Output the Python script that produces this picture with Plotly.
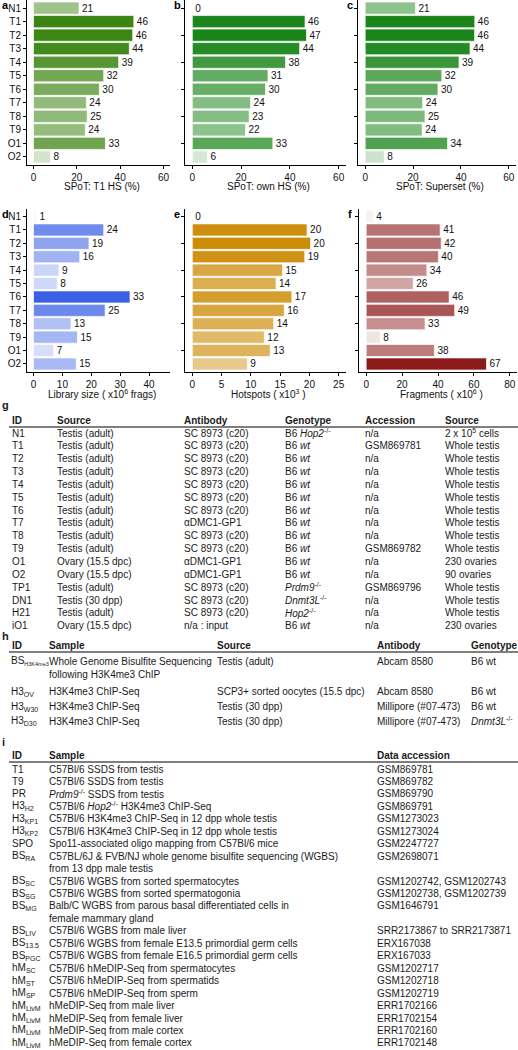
import plotly.graph_objects as go

W, H = 518, 1050

# ---------------- data ----------------
samples = ["N1", "T1", "T2", "T3", "T4", "T5", "T6", "T7", "T8", "T9", "O1", "O2"]
spot_t1 = [21, 46.3, 45.8, 44.2, 39.3, 32.4, 30.4, 24.4, 24.8, 23.9, 33.2, 7.8]
spot_own = [0, 46.2, 46.8, 44.0, 38.2, 31.0, 30.0, 23.9, 23.3, 21.8, 33.0, 6.2]
spot_superset = [21.0, 45.8, 45.7, 43.8, 39.2, 32.0, 30.4, 24.0, 25.0, 23.8, 34.4, 8.0]
library_size = [1.0, 24.3, 19.2, 16.0, 8.8, 8.2, 33.4, 24.8, 13.0, 15.2, 7.0, 14.8]
hotspots = [0.0, 19.6, 20.2, 19.2, 15.4, 14.3, 17.0, 15.7, 13.9, 12.3, 13.3, 9.4]
fragments = [4.0, 41.2, 41.8, 40.2, 33.8, 26.2, 46.2, 49.3, 32.8, 7.8, 38.0, 67.0]

g_header = ["ID", "Source", "Antibody", "Genotype", "Accession", "Source"]
g_id = ["N1", "T1", "T2", "T3", "T4", "T5", "T6", "T7", "T8", "T9", "O1", "O2",
        "TP1", "DN1", "H21", "iO1"]
g_source = ["Testis (adult)"] * 10 + ["Ovary (15.5 dpc)", "Ovary (15.5 dpc)",
            "Testis (adult)", "Testis (30 dpp)", "Testis (adult)", "Ovary (15.5 dpc)"]
g_antibody = ["SC 8973 (c20)"] * 7 + ["αDMC1-GP1", "SC 8973 (c20)", "SC 8973 (c20)",
              "αDMC1-GP1", "αDMC1-GP1", "SC 8973 (c20)", "SC 8973 (c20)",
              "SC 8973 (c20)", "n/a : input"]
g_genotype = ["B6 <i>Hop2</i><sup>-/-</sup>"] + ["B6 <i>wt</i>"] * 11 + [
    "<i>Prdm9</i><sup>-/-</sup>", "<i>Dnmt3L</i><sup>-/-</sup>",
    "<i>Hop2</i><sup>-/-</sup>", "B6 <i>wt</i>"]
g_accession = ["n/a", "GSM869781", "n/a", "n/a", "n/a", "n/a", "n/a", "n/a", "n/a",
               "GSM869782", "n/a", "n/a", "GSM869796", "n/a", "n/a", "n/a"]
g_cells = ["2 x 10<sup>5</sup> cells"] + ["Whole testis"] * 9 + [
    "230 ovaries", "90 ovaries", "Whole testis", "Whole testis", "Whole testis",
    "230 ovaries"]

h_header = ["ID", "Sample", "Source", "Antibody", "Genotype"]
h_id = ["BS<sub><span style='font-size:5.5px'>H3K4me3</span></sub>", "H3<sub>OV</sub>",
        "H3<sub>W30</sub>", "H3<sub>D30</sub>"]
h_sample = [["Whole Genome Bisulfite Sequencing", "following H3K4me3 ChIP"],
            ["H3K4me3 ChIP-Seq"], ["H3K4me3 ChIP-Seq"], ["H3K4me3 ChIP-Seq"]]
h_source = ["Testis (adult)", "SCP3+ sorted oocytes (15.5 dpc)", "Testis (30 dpp)",
            "Testis (30 dpp)"]
h_antibody = ["Abcam 8580", "Abcam 8580", "Millipore (#07-473)", "Millipore (#07-473)"]
h_genotype = ["B6 wt", "B6 wt", "B6 wt", "<i>Dnmt3L</i><sup>-/-</sup>"]

i_header = ["ID", "Sample", "Data accession"]
i_id = ["T1", "T9", "PR", "H3<sub>H2</sub>", "H3<sub>KP1</sub>", "H3<sub>KP2</sub>", "SPO",
        "BS<sub>RA</sub>", "BS<sub>SC</sub>", "BS<sub>SG</sub>", "BS<sub>MG</sub>",
        "BS<sub>LIV</sub>", "BS<sub>13.5</sub>", "BS<sub>PGC</sub>", "hM<sub>SC</sub>",
        "hM<sub>ST</sub>", "hM<sub>SP</sub>", "hM<sub>LivM</sub>", "hM<sub>LivM</sub>",
        "hM<sub>LivM</sub>", "hM<sub>LivM</sub>"]
i_sample = [
    ["C57Bl/6 SSDS from testis"],
    ["C57Bl/6 SSDS from testis"],
    ["<i>Prdm9</i><sup>-/-</sup> SSDS from testis"],
    ["C57Bl/6 <i>Hop2</i><sup>-/-</sup> H3K4me3 ChIP-Seq"],
    ["C57Bl/6 H3K4me3 ChIP-Seq in 12 dpp whole testis"],
    ["C57Bl/6 H3K4me3 ChIP-Seq in 12 dpp whole testis"],
    ["Spo11-associated oligo mapping from C57Bl/6 mice"],
    ["C57BL/6J &amp; FVB/NJ whole genome bisulfite sequencing (WGBS)",
     "from 13 dpp male testis"],
    ["C57Bl/6 WGBS from sorted spermatocytes"],
    ["C57Bl/6 WGBS from sorted spermatogonia"],
    ["Balb/C WGBS from parous basal differentiated cells in", "female mammary gland"],
    ["C57Bl/6 WGBS from male liver"],
    ["C57Bl/6 WGBS from female E13.5 primordial germ cells"],
    ["C57Bl/6 WGBS from female E16.5 primordial germ cells"],
    ["C57Bl/6 hMeDIP-Seq from spermatocytes"],
    ["C57Bl/6 hMeDIP-Seq from spermatids"],
    ["C57Bl/6 hMeDIP-Seq from sperm"],
    ["hMeDIP-Seq from male liver"],
    ["hMeDIP-Seq from female liver"],
    ["hMeDIP-Seq from male cortex"],
    ["hMeDIP-Seq from female cortex"],
]
i_accession = ["GSM869781", "GSM869782", "GSM869790", "GSM869791", "GSM1273023",
               "GSM1273024", "GSM2247727", "GSM2698071", "GSM1202742, GSM1202743",
               "GSM1202738, GSM1202739", "GSM1646791", "SRR2173867 to SRR2173871",
               "ERX167038", "ERX167033", "GSM1202717", "GSM1202718", "GSM1202719",
               "ERR1702166", "ERR1702154", "ERR1702160", "ERR1702148"]

# ---------------- helpers ----------------
def xp(px):
    return px / W


def yp(py):
    return 1 - py / H


FONT = "Liberation Sans, Arial, Helvetica, sans-serif"
TXT = "#1a1a1a"

panels = [
    dict(v=spot_t1, xd=(27, 170), yd=(0, 165), rng=[-3, 63], tv=[0, 20, 40, 60],
         lo="#f3f7ef", hi="#3b8512", cmax=46.3, lab="a", title="SPoT: T1 HS (%)", sy=True),
    dict(v=spot_own, xd=(185, 346), yd=(0, 165), rng=[-3, 63], tv=[0, 20, 40, 60],
         lo="#f1f7f1", hi="#198519", cmax=46.8, lab="b", title="SPoT: own HS (%)", sy=False),
    dict(v=spot_superset, xd=(358, 516), yd=(0, 165), rng=[-3, 63], tv=[0, 20, 40, 60],
         lo="#f1f7f1", hi="#1a861a", cmax=45.8, lab="c", title="SPoT: Superset (%)", sy=False),
    dict(v=library_size, xd=(27, 170), yd=(208.5, 372), rng=[-2.25, 47.25],
         tv=[0, 10, 20, 30, 40], lo="#ffffff", hi="#3a60e4", cmax=33.4, lab="d",
         title="Library size ( x10<sup>6</sup> frags)", sy=True),
    dict(v=hotspots, xd=(185, 346), yd=(208.5, 372), rng=[-1.25, 26.25],
         tv=[0, 5, 10, 15, 20, 25], lo="#ffffff", hi="#cc8c08", cmax=20.2, lab="e",
         title="Hotspots ( x10<sup>3</sup> )", sy=False),
    dict(v=fragments, xd=(359, 517), yd=(208.5, 372), rng=[-4, 84],
         tv=[0, 20, 40, 60, 80], lo="#ffffff", hi="#8b1a1a", cmax=67, lab="f",
         title="Fragments ( x10<sup>6</sup> )", sy=False),
]

fig = go.Figure()
annotations = []
shapes = []
layout = {}

for k, p in enumerate(panels, start=1):
    xa = "x" if k == 1 else f"x{k}"
    ya = "y" if k == 1 else f"y{k}"
    fig.add_trace(go.Bar(
        y=samples, x=p["v"], orientation="h", xaxis=xa, yaxis=ya, width=0.9,
        marker=dict(color=p["v"], colorscale=[[0, p["lo"]], [1, p["hi"]]], cmin=0,
                    cmax=p["cmax"], line=dict(color="rgba(255,255,255,0.85)", width=0.8)),
        text=[f"{round(v):d}" for v in p["v"]], textposition="outside",
        textfont=dict(size=10, color="#111", family=FONT), cliponaxis=False,
        showlegend=False, hoverinfo="x+y"))
    common = dict(showline=True, linecolor="black", linewidth=1, ticks="outside",
                  ticklen=3, tickwidth=1, tickcolor="black", showgrid=False,
                  zeroline=False, tickfont=dict(size=10, color="#111", family=FONT))
    layout["xaxis" if k == 1 else f"xaxis{k}"] = dict(
        domain=[xp(p["xd"][0]), xp(p["xd"][1])], range=p["rng"], tickvals=p["tv"],
        anchor=ya, **common)
    layout["yaxis" if k == 1 else f"yaxis{k}"] = dict(
        domain=[yp(p["yd"][1]), yp(p["yd"][0])], type="category",
        categoryorder="array", categoryarray=samples, range=[11.6, -0.6],
        anchor=xa, showticklabels=p["sy"], **common)
    cx = (p["xd"][0] + p["xd"][1]) / 2 + 3
    ty = p["yd"][1] + (21 if k <= 3 else 22)
    annotations.append(dict(x=xp(cx), y=yp(ty), xref="paper", yref="paper",
                            text=p["title"], showarrow=False, xanchor="center",
                            yanchor="middle", font=dict(size=10, color="#111", family=FONT)))
    lx = 0 if k in (1, 4) else p["xd"][0] - 13
    annotations.append(dict(x=xp(lx), y=yp(p["yd"][0] + 5), xref="paper", yref="paper",
                            text=f"<b>{p['lab']}</b>", showarrow=False, xanchor="left",
                            yanchor="middle", font=dict(size=11, color="black", family=FONT)))


def txt(x, y, s, bold=False, size=10):
    annotations.append(dict(x=xp(x), y=yp(y), xref="paper", yref="paper",
                            text=f"<b>{s}</b>" if bold else s, showarrow=False,
                            xanchor="left", yanchor="middle",
                            font=dict(size=size, color=TXT, family=FONT)))


def hline(y):
    shapes.append(dict(type="line", xref="paper", yref="paper", x0=xp(9), x1=xp(518),
                       y0=yp(y), y1=yp(y), line=dict(color="black", width=1.2)))


# ---------- table g ----------
txt(0, 405, "g", bold=True, size=11)
gx = [10, 55, 182, 283, 363, 443]
for cx_, hd in zip(gx, g_header):
    txt(cx_, 420, hd, bold=True)
hline(427)
for r in range(len(g_id)):
    y = 433 + r * 12.85
    for cx_, col in zip(gx, [g_id, g_source, g_antibody, g_genotype, g_accession, g_cells]):
        txt(cx_, y, col[r])

# ---------- table h ----------
txt(0, 636, "h", bold=True, size=11)
hx = [9, 47, 215, 375, 469]
for cx_, hd in zip(hx, h_header):
    txt(cx_ if cx_ > 9 else 10, 645, hd, bold=True)
hline(652)
y = 661
for r in range(len(h_id)):
    txt(hx[0], y, h_id[r])
    for j, line in enumerate(h_sample[r]):
        txt(hx[1], y + j * 13, line)
    txt(hx[2], y, h_source[r])
    txt(hx[3], y, h_antibody[r])
    txt(hx[4], y, h_genotype[r])
    y += 14.5 + (len(h_sample[r]) - 1) * 16.5

# ---------- table i ----------
txt(0, 742, "i", bold=True, size=11)
ix = [10, 47, 375]
for cx_, hd in zip(ix, i_header):
    txt(cx_, 755, hd, bold=True)
hline(762)
line_no = 0
for r in range(len(i_id)):
    y = 769 + line_no * 12.45
    txt(ix[0], y, i_id[r])
    for j, line in enumerate(i_sample[r]):
        txt(ix[1], y + j * 12.45, line)
    txt(ix[2], y, i_accession[r])
    line_no += len(i_sample[r])

fig.update_layout(width=W, height=H, margin=dict(l=0, r=0, t=0, b=0),
                  paper_bgcolor="white", plot_bgcolor="white",
                  annotations=annotations, shapes=shapes,
                  font=dict(family=FONT, size=10, color=TXT), **layout)
fig.write_html("out.html", config={"displayModeBar": False},
               post_script="document.body.style.margin='0';"
                           "document.body.style.overflow='hidden';")
